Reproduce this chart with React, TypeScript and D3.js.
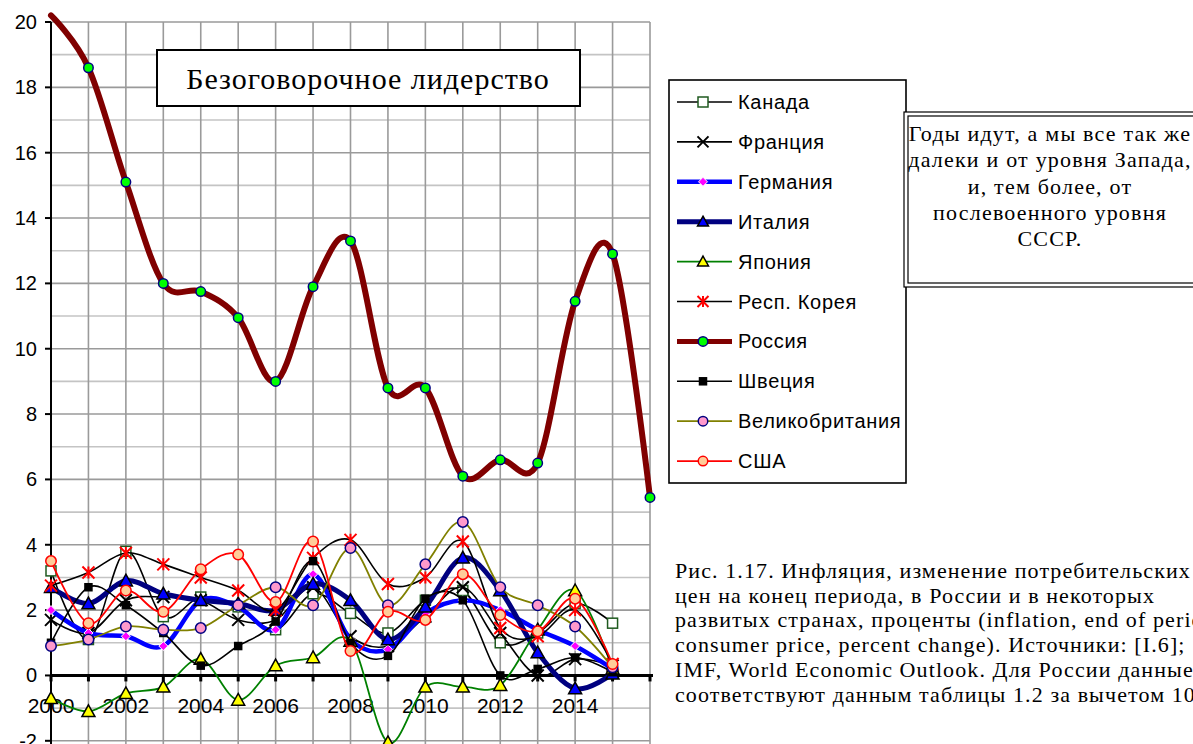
import React from 'react'
import * as d3 from 'd3'

const years = d3.range(2000, 2017)
const canada = [3.2, 1.1, 3.8, 1.8, 2.4, 2.1, 1.4, 2.5, 1.9, 1.3, 2.3, 2.6, 1.0, 1.3, 2.2, 1.6]
const france = [1.7, 1.3, 2.3, 2.4, 2.3, 1.7, 1.7, 2.7, 1.2, 0.9, 1.8, 2.7, 1.3, 0.0, 0.5, 0.3]
const germany = [2.0, 1.3, 1.2, 0.9, 2.3, 2.1, 1.4, 3.1, 1.1, 0.8, 1.9, 2.3, 2.0, 1.4, 0.9, 0.2]
const italy = [2.7, 2.2, 2.9, 2.5, 2.3, 2.2, 2.0, 2.8, 2.3, 1.1, 2.1, 3.6, 2.6, 0.7, -0.4, 0.05]
const japan = [-0.7, -1.1, -0.55, -0.35, 0.5, -0.75, 0.3, 0.55, 1.05, -2.05, -0.35, -0.35, -0.3, 1.4, 2.6, 0.2]
const korea = [2.75, 3.15, 3.75, 3.4, 3.0, 2.6, 2.0, 3.6, 4.15, 2.8, 3.0, 4.1, 1.45, 1.2, 2.0, 0.35]
const russia = [20.2, 18.6, 15.1, 12.0, 11.75, 10.95, 9.0, 11.9, 13.3, 8.8, 8.8, 6.1, 6.6, 6.5, 11.45, 12.9, 5.45]
const sweden = [1.0, 2.7, 2.15, 1.3, 0.3, 0.9, 1.65, 3.5, 1.0, 0.6, 2.35, 2.3, 0.0, 0.2, 0.55, 0.1]
const uk = [0.9, 1.1, 1.5, 1.4, 1.45, 2.15, 2.7, 2.15, 3.9, 2.15, 3.4, 4.7, 2.7, 2.15, 1.5, 0.25]
const usa = [3.5, 1.6, 2.6, 1.95, 3.25, 3.7, 2.25, 4.1, 0.75, 1.95, 1.7, 3.1, 1.85, 1.35, 2.35, 0.35]

const yTicks = d3.range(-2, 21, 2)
const xTickLabels = [2000, 2002, 2004, 2006, 2008, 2010, 2012, 2014]

const title = 'Безоговорочное лидерство'
const noteLines = [
  'Годы идут, а мы все так же',
  'далеки и от уровня Запада,',
  'и, тем более, от',
  'послевоенного уровня',
  'СССР.'
]
const captionLines = [
  'Рис. 1.17. Инфляция, изменение потребительских',
  'цен на конец периода, в России и в некоторых',
  'развитых странах, проценты (inflation, end of period',
  'consumer price, percent change). Источники: [I.6];',
  'IMF, World Economic Outlook. Для России данные',
  'соответствуют данным таблицы 1.2 за вычетом 100'
]

// series styles (drawing order = legend order)
const series = [
  { name: 'Канада', values: canada, line: '#000', lw: 1.6, marker: 'square', fill: '#fff', stroke: '#1f5a1f', size: 10 },
  { name: 'Франция', values: france, line: '#000', lw: 1.6, marker: 'x', fill: 'none', stroke: '#000', size: 12 },
  { name: 'Германия', values: germany, line: '#0000ff', lw: 4.5, marker: 'diamond', fill: '#ff00ff', stroke: '#fff', size: 9 },
  { name: 'Италия', values: italy, line: '#000080', lw: 5, marker: 'triangle', fill: '#0000ff', stroke: '#000', size: 13 },
  { name: 'Япония', values: japan, line: '#008000', lw: 1.8, marker: 'triangle', fill: '#ffff00', stroke: '#000', size: 13 },
  { name: 'Респ. Корея', values: korea, line: '#000', lw: 1.6, marker: 'asterisk', fill: 'none', stroke: '#ff0000', size: 12 },
  { name: 'Россия', values: russia, line: '#800000', lw: 6, marker: 'circle', fill: '#00ff00', stroke: '#000080', size: 11 },
  { name: 'Швеция', values: sweden, line: '#000', lw: 1.6, marker: 'square', fill: '#000', stroke: '#000', size: 7 },
  { name: 'Великобритания', values: uk, line: '#808000', lw: 1.8, marker: 'circle', fill: '#ff99cc', stroke: '#000080', size: 12 },
  { name: 'США', values: usa, line: '#ff0000', lw: 1.8, marker: 'circle', fill: '#ffcc99', stroke: '#ff0000', size: 12 }
]

const W = 1193
const H = 744
const sans = '"Liberation Sans", Arial, sans-serif'
const serif = '"Liberation Serif", "Times New Roman", serif'

const x = d3.scaleLinear().domain([2000, 2016]).range([51, 650])
const y = d3.scaleLinear().domain([-2, 20]).range([740.8, 22])

function Marker({ kind, cx, cy, fill, stroke, size }) {
  const r = size / 2
  if (kind === 'circle') return <circle cx={cx} cy={cy} r={r - 0.75} fill={fill} stroke={stroke} strokeWidth={1.5} />
  if (kind === 'square')
    return <rect x={cx - r} y={cy - r} width={size} height={size} fill={fill} stroke={stroke} strokeWidth={1.5} />
  if (kind === 'diamond')
    return (
      <path d={`M${cx},${cy - r}L${cx + r},${cy}L${cx},${cy + r}L${cx - r},${cy}Z`} fill={fill} stroke={stroke} strokeWidth={1} />
    )
  if (kind === 'triangle')
    return (
      <path
        d={`M${cx},${cy - r}L${cx + r},${cy + r * 0.8}L${cx - r},${cy + r * 0.8}Z`}
        fill={fill}
        stroke={stroke}
        strokeWidth={1.5}
      />
    )
  if (kind === 'x')
    return (
      <path d={`M${cx - r},${cy - r}L${cx + r},${cy + r}M${cx - r},${cy + r}L${cx + r},${cy - r}`} stroke={stroke} strokeWidth={2} />
    )
  // asterisk
  return (
    <path
      d={`M${cx - r},${cy - r}L${cx + r},${cy + r}M${cx - r},${cy + r}L${cx + r},${cy - r}M${cx},${cy - r}L${cx},${cy + r}`}
      stroke={stroke}
      strokeWidth={2}
    />
  )
}

export default function App() {
  const line = d3
    .line<number>()
    .x((_, i) => x(years[i]))
    .y((d) => y(d))
    .curve(d3.curveCardinal.tension(0))

  const gridV = d3.range(2001, 2017)
  const gridH = d3.range(-2, 21, 1)
  const legendX = 669
  const legendY0 = 102
  const legendStep = 39.9

  return (
    <svg width={W} height={H} style={{ position: 'absolute', left: 0, top: 0, background: '#fff' }}>
      <rect x={0} y={0} width={W} height={H} fill="#fff" />
      {/* grid */}
      {gridH.map((v) => (
        <line
          key={'h' + v}
          x1={x(2000)}
          x2={x(2016)}
          y1={y(v)}
          y2={y(v)}
          stroke={v % 2 === 0 ? '#9a9a9a' : '#c4c4c4'}
          strokeWidth={1.6}
        />
      ))}
      {gridV.map((v) => (
        <line key={'v' + v} x1={x(v)} x2={x(v)} y1={y(20)} y2={H} stroke="#9a9a9a" strokeWidth={1.6} />
      ))}
      {/* y axis */}
      <line x1={x(2000)} x2={x(2000)} y1={y(20)} y2={H} stroke="#000" strokeWidth={2} />
      {yTicks.map((v) => (
        <g key={'yt' + v}>
          <line x1={x(2000) - 6} x2={x(2000)} y1={y(v)} y2={y(v)} stroke="#000" strokeWidth={2} />
          <text x={37} y={y(v) + 7} textAnchor="end" fontFamily={sans} fontSize={20} fill="#000">
            {v}
          </text>
        </g>
      ))}
      {/* zero axis */}
      <line x1={x(2000)} x2={x(2016) + 3} y1={y(0)} y2={y(0)} stroke="#000" strokeWidth={3} />
      {years.map((v) => (
        <line key={'xt' + v} x1={x(v)} x2={x(v)} y1={y(0)} y2={y(0) + 6} stroke="#000" strokeWidth={3} />
      ))}
      {xTickLabels.map((v) => (
        <text key={'xl' + v} x={x(v)} y={713} textAnchor="middle" fontFamily={sans} fontSize={21} fill="#000">
          {v}
        </text>
      ))}
      {/* series */}
      {series.map((s) => (
        <g key={s.name}>
          <path d={line(s.values)} fill="none" stroke={s.line} strokeWidth={s.lw} strokeLinejoin="round" strokeLinecap="round" />
          {s.values.map((v, i) =>
            v > 20 ? null : (
              <Marker key={i} kind={s.marker} cx={x(years[i])} cy={y(v)} fill={s.fill} stroke={s.stroke} size={s.size} />
            )
          )}
        </g>
      ))}
      {/* title box */}
      <rect x={157} y={50} width={423} height={56} fill="#fff" stroke="#000" strokeWidth={2} />
      <text x={368} y={89} textAnchor="middle" fontFamily={serif} fontSize={30} letterSpacing={1} fill="#000">
        {title}
      </text>
      {/* legend */}
      <rect x={legendX} y={80} width={237} height={403} fill="#fff" stroke="#000" strokeWidth={1.6} />
      {series.map((s, i) => {
        const ly = legendY0 + i * legendStep
        return (
          <g key={'lg' + s.name}>
            <line x1={677} x2={732} y1={ly} y2={ly} stroke={s.line} strokeWidth={Math.min(s.lw, 5)} />
            <Marker kind={s.marker} cx={703} cy={ly} fill={s.fill} stroke={s.stroke} size={Math.min(s.size, 11)} />
            <text x={738} y={ly + 7} fontFamily={sans} fontSize={20} letterSpacing={0.7} fill="#000">
              {s.name}
            </text>
          </g>
        )
      })}
      {/* note box */}
      <rect x={904} y={112} width={300} height={175} fill="#fff" stroke="#000" strokeWidth={1.2} />
      <rect x={908} y={116} width={292} height={167} fill="none" stroke="#000" strokeWidth={1.2} />
      {noteLines.map((t, i) => (
        <text
          key={'n' + i}
          x={1050}
          y={141 + i * 26.3}
          textAnchor="middle"
          fontFamily={serif}
          fontSize={22}
          letterSpacing={1.2}
          fill="#000"
        >
          {t}
        </text>
      ))}
      {/* caption */}
      {captionLines.map((t, i) => (
        <text key={'c' + i} x={675} y={578 + i * 24.7} fontFamily={serif} fontSize={22} letterSpacing={1.1} fill="#000">
          {t}
        </text>
      ))}
    </svg>
  )
}
